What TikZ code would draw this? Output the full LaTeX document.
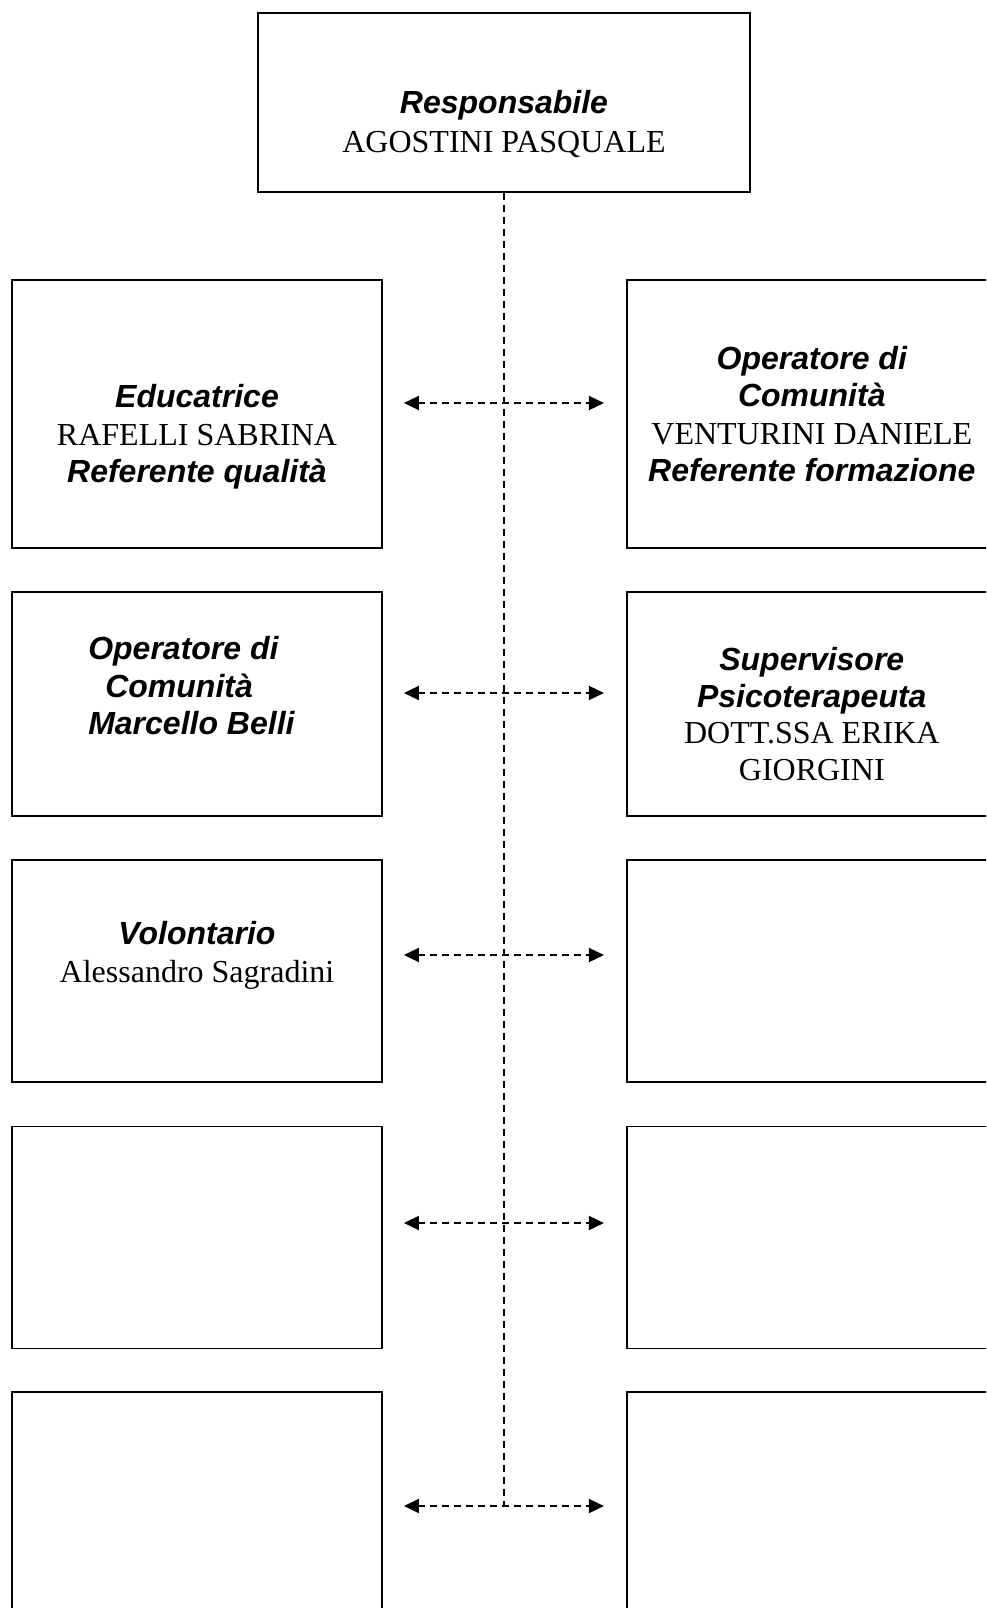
\documentclass[tikz,border=0pt]{standalone}
\usepackage{fontspec}
\setmainfont{Liberation Serif}
\newfontfamily\rolefont{Liberation Sans}
\usepackage{tikz}
\usetikzlibrary{positioning}
\usetikzlibrary{arrows.meta}

\tikzset{
	box/.style={draw, line width=1.8pt, inner sep=0pt, minimum width=370pt},
	txt/.style={align=center, inner sep=0pt, font=\fontsize{32}{37.5}\selectfont},
	link/.style={line width=1.8pt, dash pattern=on 7pt off 5pt},
	twoway/.style={link, {Triangle[length=15pt,width=14pt]}-{Triangle[length=15pt,width=14pt]}, shorten <=21pt, shorten >=22pt}
}
\newcommand{\role}[1]{{\rolefont\bfseries\itshape #1}}

\begin{document}
\begin{tikzpicture}[x=1pt, y=-1pt]
	\clip (0,0) rectangle (986,1608);
	
	% Level 1
	\node [box, minimum width=492pt, minimum height=179pt] at (504,102.5) (1Resp) {};
	\node [txt, yshift=-21.5pt] at (1Resp) (1RespText) {\role{Responsabile}\\[1pt]AGOSTINI PASQUALE};
	
	% Level 2
	\node [box, minimum height=268pt] at (197,414) (2Educ) {};
	\node [box, minimum height=268pt, right=243pt of 2Educ] (2Oper) {};
	\node [txt, yshift=-23pt] at (2Educ) (2EducText) {\role{Educatrice}\\RAFELLI SABRINA\\\role{Referente qualità}};
	\node [txt] at (2Oper) (2OperText) {\role{Operatore di}\\\role{Comunità}\\VENTURINI DANIELE\\\role{Referente formazione}};
	
	% Level 3
	\node [box, minimum height=224pt, below=42pt of 2Educ] (3Oper) {};
	\node [box, minimum height=224pt, right=243pt of 3Oper] (3Super) {};
	\node [txt, align=left, anchor=west, xshift=77pt, yshift=18pt] at (3Oper.west) (3OperText) {\role{Operatore di}\\\hspace{17pt}\role{Comunità}\\\role{Marcello Belli}};
	\node [txt, yshift=-10.5pt, font=\fontsize{32}{36.5}\selectfont] at (3Super) (3SuperText) {\role{Supervisore}\\\role{Psicoterapeuta}\\DOTT.SSA ERIKA\\GIORGINI};
	
	% Level 4
	\node [box, minimum height=222pt, below=42pt of 3Oper] (4Vol) {};
	\node [box, minimum height=222pt, right=243pt of 4Vol] (4Right) {};
	\node [txt, yshift=15.5pt] at (4Vol) (4VolText) {\role{Volontario}\\Alessandro Sagradini};
	
	% Levels 5 & 6 (empty)
	\node [box, minimum height=222pt, below=43pt of 4Vol] (5Left) {};
	\node [box, minimum height=222pt, right=243pt of 5Left] (5Right) {};
	\node [box, minimum height=222pt, below=42pt of 5Left] (6Left) {};
	\node [box, minimum height=222pt, right=243pt of 6Left] (6Right) {};
	
	% Crossings on the spine
	\coordinate (a2) at (504,403);
	\coordinate (a3) at (504,693);
	\coordinate (a4) at (504,955);
	\coordinate (a5) at (504,1223);
	\coordinate (a6) at (504,1506);
	
	% Connections
	\draw [link] (node cs:name=1Resp, anchor=south) -- (a6);
	\draw [twoway] (2Educ.east |- a2) -- (2Oper.west |- a2);
	\draw [twoway] (3Oper.east |- a3) -- (3Super.west |- a3);
	\draw [twoway] (4Vol.east |- a4) -- (4Right.west |- a4);
	\draw [twoway] (5Left.east |- a5) -- (5Right.west |- a5);
	\draw [twoway] (6Left.east |- a6) -- (6Right.west |- a6);
	
\end{tikzpicture}
\end{document}
